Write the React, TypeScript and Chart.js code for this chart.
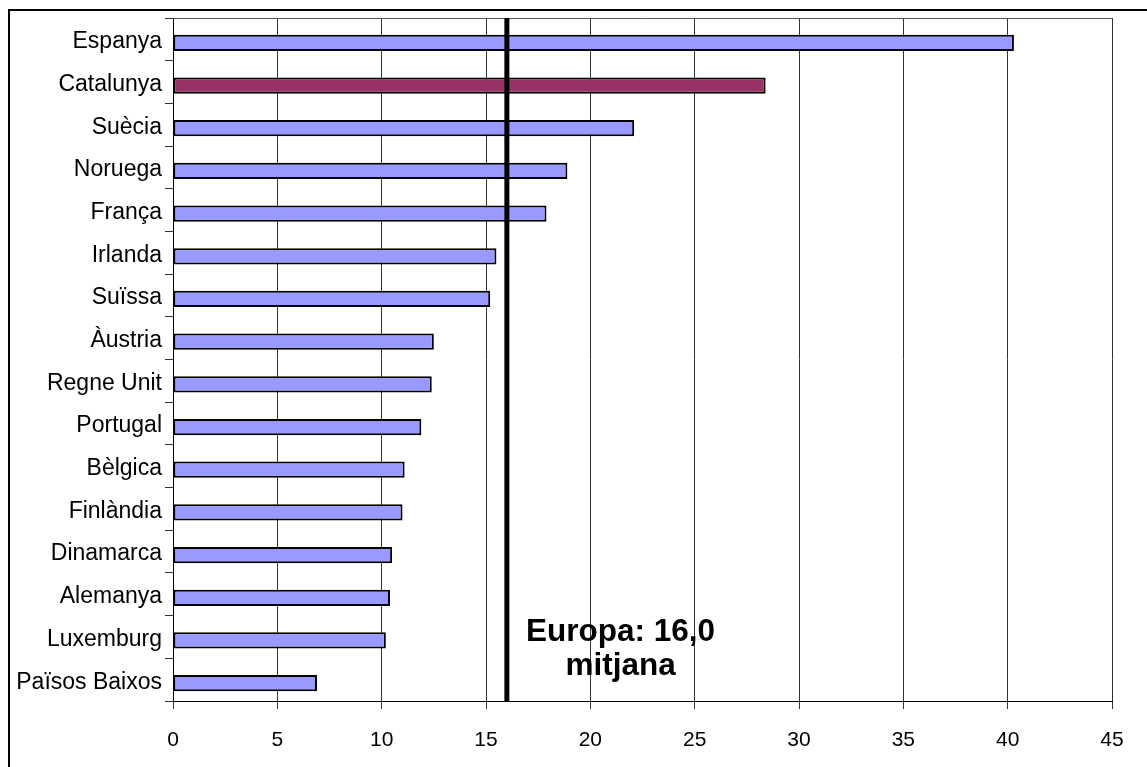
import React, { useEffect, useRef } from "react";
import { Chart, registerables } from "chart.js";

Chart.register(...registerables);

const categories = [
  "Espanya",
  "Catalunya",
  "Suècia",
  "Noruega",
  "França",
  "Irlanda",
  "Suïssa",
  "Àustria",
  "Regne Unit",
  "Portugal",
  "Bèlgica",
  "Finlàndia",
  "Dinamarca",
  "Alemanya",
  "Luxemburg",
  "Països Baixos",
];
const values = [40.3, 28.4, 22.1, 18.9, 17.9, 15.5, 15.2, 12.5, 12.4, 11.9, 11.1, 11.0, 10.5, 10.4, 10.2, 6.9];
const highlighted = "Catalunya";
const xTicks = [0, 5, 10, 15, 20, 25, 30, 35, 40, 45];
const europeMean = 16.0;
const meanLabel = ["Europa: 16,0", "mitjana"];
const meanLabelAt = 21.45;

const BAR_COLOR = "#9999FF";
const HIGHLIGHT_COLOR = "#993366";
const FONT = "'Liberation Sans', Arial, Helvetica, sans-serif";

const decorPlugin = {
  id: "decor",
  beforeDatasetsDraw(chart: any) {
    chart.ctx.save();
    chart.ctx.translate(0, 3.5);
  },
  afterDatasetsDraw(chart: any) {
    const ctx = chart.ctx;
    ctx.restore();
    const { top, bottom, left, right } = chart.chartArea;
    const xs = chart.scales.x;
    ctx.save();
    ctx.strokeStyle = "#555";
    ctx.lineWidth = 1;
    ctx.beginPath();
    ctx.moveTo(left, top + 0.5);
    ctx.lineTo(right, top + 0.5);
    ctx.stroke();
    const mx = xs.getPixelForValue(europeMean);
    ctx.strokeStyle = "#000";
    ctx.lineWidth = 5;
    ctx.beginPath();
    ctx.moveTo(mx, top);
    ctx.lineTo(mx, bottom);
    ctx.stroke();
    const tx = xs.getPixelForValue(meanLabelAt);
    ctx.fillStyle = "#000";
    ctx.font = `bold 31.5px ${FONT}`;
    ctx.textAlign = "center";
    ctx.textBaseline = "alphabetic";
    ctx.fillText(meanLabel[0], tx, bottom - 60);
    ctx.fillText(meanLabel[1], tx, bottom - 26);
    ctx.restore();
  },
  afterDraw(chart: any) {
    const ctx = chart.ctx;
    ctx.save();
    ctx.fillStyle = "#000";
    ctx.fillRect(8, 9, chart.width - 8, 2);
    ctx.fillRect(8, 9, 2, chart.height - 9);
    ctx.restore();
  },
};

export default function App() {
  const ref = useRef<HTMLCanvasElement | null>(null);

  useEffect(() => {
    if (!ref.current) return;
    const chart = new Chart(ref.current, {
      type: "bar",
      data: {
        labels: categories,
        datasets: [
          {
            data: values,
            backgroundColor: categories.map((c) => (c === highlighted ? HIGHLIGHT_COLOR : BAR_COLOR)),
            borderColor: "#000",
            borderWidth: 2,
            borderSkipped: false,
            categoryPercentage: 1,
            barPercentage: 0.38,
          },
        ],
      },
      options: {
        indexAxis: "y",
        animation: false,
        responsive: false,
        maintainAspectRatio: false,
        layout: { padding: { top: 18, right: 35, left: 0, bottom: 0 } },
        plugins: {
          legend: { display: false },
          tooltip: { enabled: false },
        },
        scales: {
          x: {
            type: "linear",
            min: 0,
            max: 45,
            afterBuildTicks: (s: any) => {
              s.ticks = xTicks.map((v) => ({ value: v }));
            },
            afterFit: (s: any) => {
              s.height = 66;
            },
            grid: {
              color: "#333",
              lineWidth: 1,
              tickLength: 8,
              drawOnChartArea: true,
              drawTicks: true,
            },
            border: { display: true, color: "#000", width: 1 },
            ticks: {
              color: "#000",
              padding: 19,
              maxRotation: 0,
              font: { family: FONT, size: 21 },
            },
          },
          y: {
            type: "category",
            afterFit: (s: any) => {
              s.width = 173;
            },
            grid: {
              offset: true,
              color: "#333",
              drawOnChartArea: false,
              drawTicks: true,
              tickLength: 8,
            },
            border: { display: true, color: "#000", width: 1 },
            ticks: {
              color: "#000",
              padding: 3,
              labelOffset: 2.5,
              autoSkip: false,
              font: { family: FONT, size: 23 },
            },
          },
        },
      },
      plugins: [decorPlugin],
    } as any);
    return () => chart.destroy();
  }, []);

  return (
    <div style={{ position: "fixed", left: 0, top: 0, width: 1147, height: 767, background: "#fff" }}>
      <canvas ref={ref} width={1147} height={767} style={{ width: 1147, height: 767, display: "block" }} />
    </div>
  );
}
